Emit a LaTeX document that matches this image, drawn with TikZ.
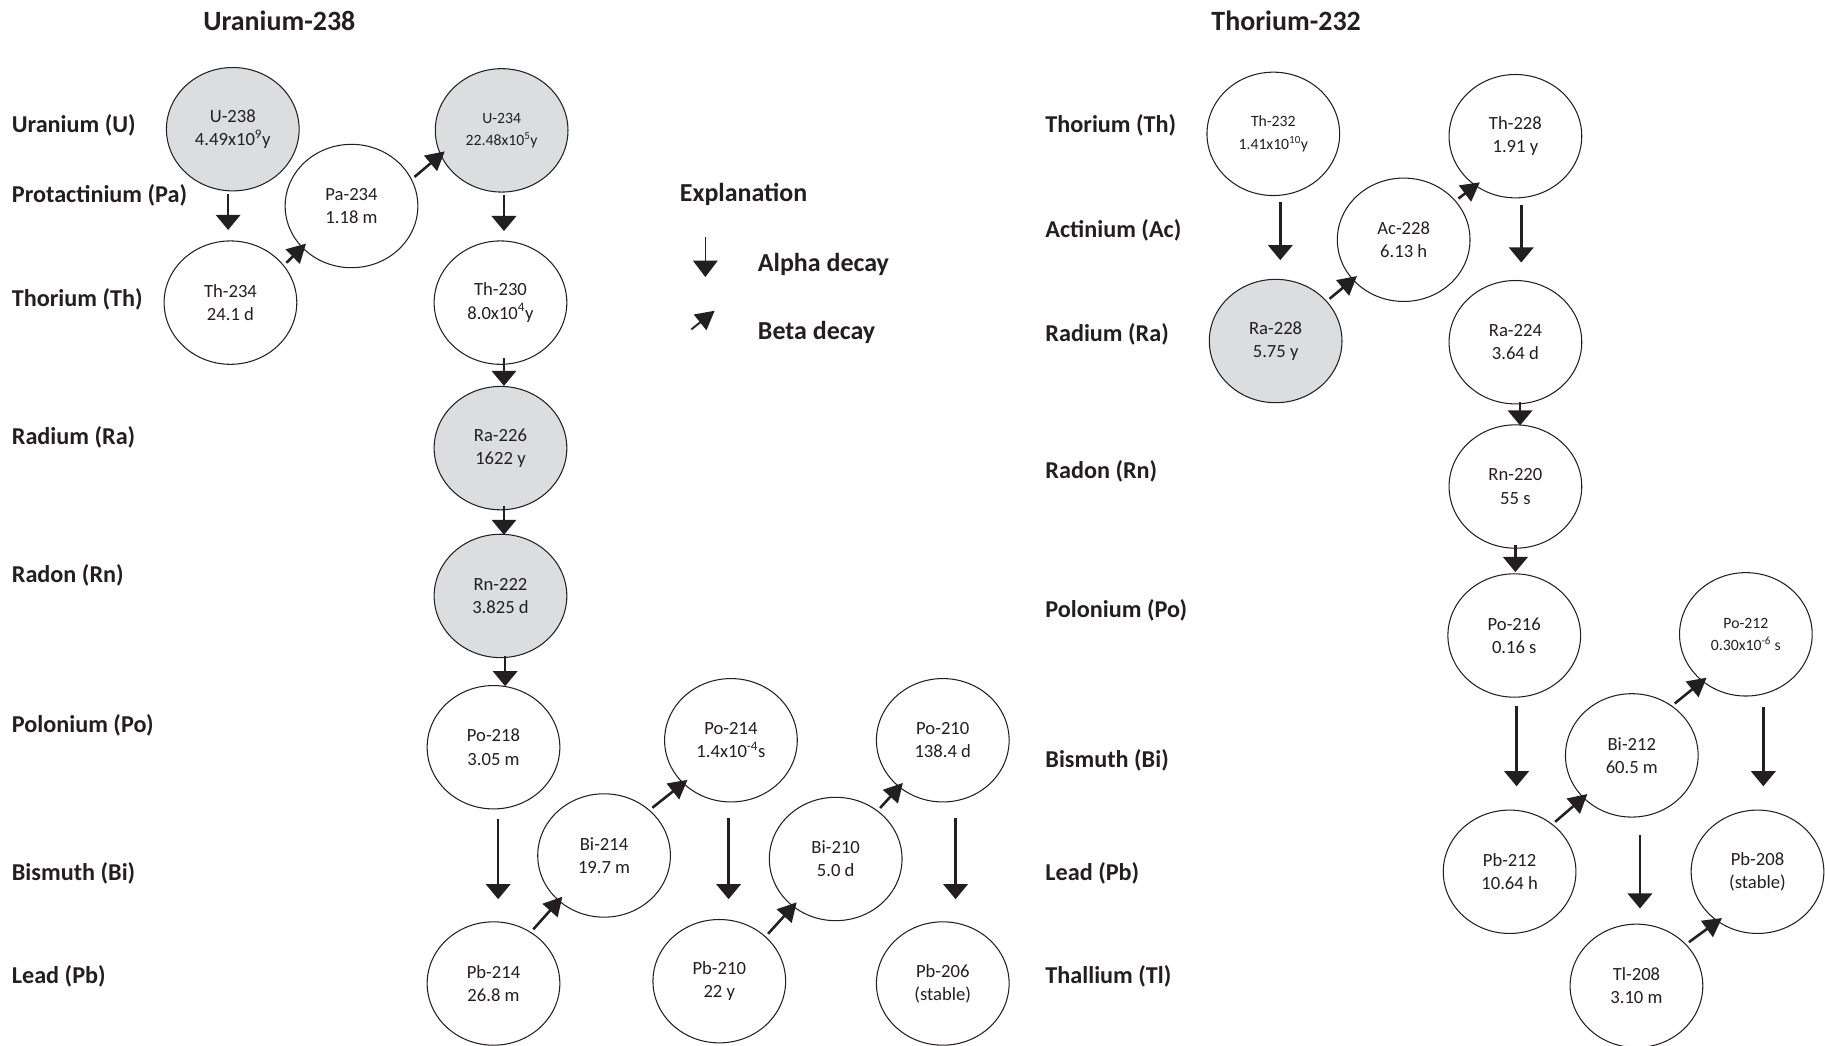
\documentclass[tikz,border=0pt]{standalone}
\usepackage{fontspec}
\setmainfont{Carlito}
\usetikzlibrary{shapes.geometric,arrows.meta,calc}
\definecolor{nucgray}{RGB}{220,221,223}
\definecolor{ink}{RGB}{35,31,32}
\newcommand\alphadecay[5]{%
  \path (#1.south) ++(#3,0) coordinate (tmpA);
  \draw[alphaarr, shorten <=#4pt, shorten >=#5pt] (tmpA) -- (tmpA |- #2.north);}
\newcommand\betadecay[4]{\draw[betaarr] (#1.#2) -- (#3.#4);}
\begin{document}
\begin{tikzpicture}[x=1pt,y=1pt,
  every node/.style={text=ink},
  nuc/.style={ellipse, draw=ink, line width=0.9pt, fill=white, minimum width=114pt, minimum height=106pt, inner sep=0pt, align=center, font=\fontsize{16}{20}\selectfont},
  small/.style={font=\fontsize{13.5}{19}\selectfont},
  gfill/.style={fill=nucgray},
  lbl/.style={anchor=west, inner sep=0pt, font=\bfseries\fontsize{20.8}{24}\selectfont},
  ttl/.style={inner sep=0pt, font=\bfseries\fontsize{24}{28}\selectfont},
  leg/.style={anchor=west, inner sep=0pt, font=\bfseries\fontsize{22.3}{26}\selectfont},
  alphaarr/.style={draw=ink, line width=2.2pt, -{Triangle[width=21pt,length=13pt]}},
  betaarr/.style={draw=ink, line width=2.2pt, -{Triangle[width=17pt,length=16pt]}, shorten <=3pt, shorten >=-5pt},
  legalpha/.style={draw=ink, line width=1.4pt, -{Triangle[width=21pt,length=14pt]}},
  legbeta/.style={draw=ink, line width=1.6pt, -{Triangle[width=17pt,length=16pt]}}
]
\useasboundingbox (0,0) rectangle (1568,-898);

% titles
\node[ttl] (t1) at (240,-18) {Uranium-238};
\node[ttl] (t2) at (1105,-18) {Thorium-232};

% row labels U-238
\node[lbl] (lu1) at (10,-108) {Uranium (U)};
\node[lbl] (lu2) at (10,-168) {Protactinium (Pa)};
\node[lbl] (lu3) at (10,-257) {Thorium (Th)};
\node[lbl] (lu4) at (10,-376) {Radium (Ra)};
\node[lbl] (lu5) at (10,-494) {Radon (Rn)};
\node[lbl] (lu6) at (10,-623) {Polonium (Po)};
\node[lbl] (lu7) at (10,-750) {Bismuth (Bi)};
\node[lbl] (lu8) at (10,-839) {Lead (Pb)};

% row labels Th-232
\node[lbl] (lt1) at (898,-108) {Thorium (Th)};
\node[lbl] (lt2) at (898,-198) {Actinium (Ac)};
\node[lbl] (lt3) at (898,-287) {Radium (Ra)};
\node[lbl] (lt4) at (898,-405) {Radon (Rn)};
\node[lbl] (lt5) at (898,-524) {Polonium (Po)};
\node[lbl] (lt6) at (898,-653) {Bismuth (Bi)};
\node[lbl] (lt7) at (898,-750) {Lead (Pb)};
\node[lbl] (lt8) at (898,-839) {Thallium (Tl)};

% legend
\node[leg] (exp) at (584,-167) {Explanation};
\node[leg] (la) at (651,-227) {Alpha decay};
\node[leg] (lb) at (651,-286) {Beta decay};
\coordinate (a1) at (606,-204);
\coordinate (a2) at (606,-238);
\coordinate (b1) at (594,-283);
\coordinate (b2) at (614,-267);
\draw[legalpha] (a1) -- (a2);
\draw[legbeta] (b1) -- (b2);

% Uranium series nodes
\node[nuc,gfill] (u238) at (200,-111) {U-238\\4.49x10\textsuperscript{9}y};
\node[nuc] (pa234) at (302,-177) {Pa-234\\1.18 m};
\node[nuc,gfill,small] (u234) at (431,-112) {U-234\\22.48x10\textsuperscript{5}y};
\node[nuc] (th234) at (198,-260) {Th-234\\24.1 d};
\node[nuc] (th230) at (430,-260) {Th-230\\8.0x10\textsuperscript{4}y};
\node[nuc,gfill] (ra226) at (430,-385) {Ra-226\\1622 y};
\node[nuc,gfill] (rn222) at (430,-512) {Rn-222\\3.825 d};
\node[nuc] (po218) at (424,-642) {Po-218\\3.05 m};
\node[nuc] (bi214) at (519,-735) {Bi-214\\19.7 m};
\node[nuc] (po214) at (628,-636) {Po-214\\1.4x10\textsuperscript{-4}s};
\node[nuc] (pb214) at (424,-845) {Pb-214\\26.8 m};
\node[nuc] (pb210) at (618,-843) {Pb-210\\22 y};
\node[nuc] (bi210) at (718,-738) {Bi-210\\5.0 d};
\node[nuc] (po210) at (810,-636) {Po-210\\138.4 d};
\node[nuc] (pb206) at (810,-845) {Pb-206\\(stable)};

% Thorium series nodes
\node[nuc,small] (th232) at (1094,-115) {Th-232\\1.41x10\textsuperscript{10}y};
\node[nuc] (th228) at (1302,-117) {Th-228\\1.91 y};
\node[nuc] (ac228) at (1206,-206) {Ac-228\\6.13 h};
\node[nuc,gfill] (ra228) at (1096,-293) {Ra-228\\5.75 y};
\node[nuc] (ra224) at (1302,-294) {Ra-224\\3.64 d};
\node[nuc] (rn220) at (1302,-418) {Rn-220\\55 s};
\node[nuc] (po216) at (1301,-546) {Po-216\\0.16 s};
\node[nuc,small] (po212) at (1500,-545) {Po-212\\0.30x10\textsuperscript{-6} s};
\node[nuc] (bi212) at (1402,-649) {Bi-212\\60.5 m};
\node[nuc] (pb212) at (1297,-749) {Pb-212\\10.64 h};
\node[nuc] (pb208) at (1510,-749) {Pb-208\\(stable)};
\node[nuc] (tl208) at (1406,-847) {Tl-208\\3.10 m};

% alpha decays, uranium series
\alphadecay{u238}{th234}{-4}{2}{9}
\alphadecay{u234}{th230}{2}{2}{8}
\alphadecay{th230}{ra226}{3}{-6}{0}
\alphadecay{ra226}{rn222}{3}{-4}{-1}
\alphadecay{rn222}{po218}{4}{-2}{-1}
\alphadecay{po218}{pb214}{4}{8}{19}
\alphadecay{po214}{pb210}{-2}{13}{17}
\alphadecay{po210}{pb206}{11}{13}{19}

% beta decays, uranium series
\betadecay{th234}{35}{pa234}{220}
\betadecay{pa234}{24}{u234}{202}
\betadecay{pb214}{54}{bi214}{225}
\betadecay{bi214}{45}{po214}{222}
\betadecay{pb210}{44}{bi210}{228}
\betadecay{bi210}{49}{po210}{227}

% alpha decays, thorium series
\alphadecay{th232}{ra228}{6}{5}{16}
\alphadecay{th228}{ra224}{5}{6}{15}
\alphadecay{ra224}{rn220}{4}{-2}{-1}
\alphadecay{rn220}{po216}{0}{-3}{1}
\alphadecay{po216}{pb212}{2}{7}{20}
\alphadecay{po212}{pb208}{15}{9}{20}
\alphadecay{bi212}{tl208}{7}{15}{13}

% beta decays, thorium series
\betadecay{ra228}{38}{ac228}{218}
\betadecay{ac228}{37}{th228}{231}
\betadecay{pb212}{48}{bi212}{221}
\betadecay{bi212}{51}{po212}{227}
\betadecay{tl208}{40}{pb208}{231}
\end{tikzpicture}
\end{document}
